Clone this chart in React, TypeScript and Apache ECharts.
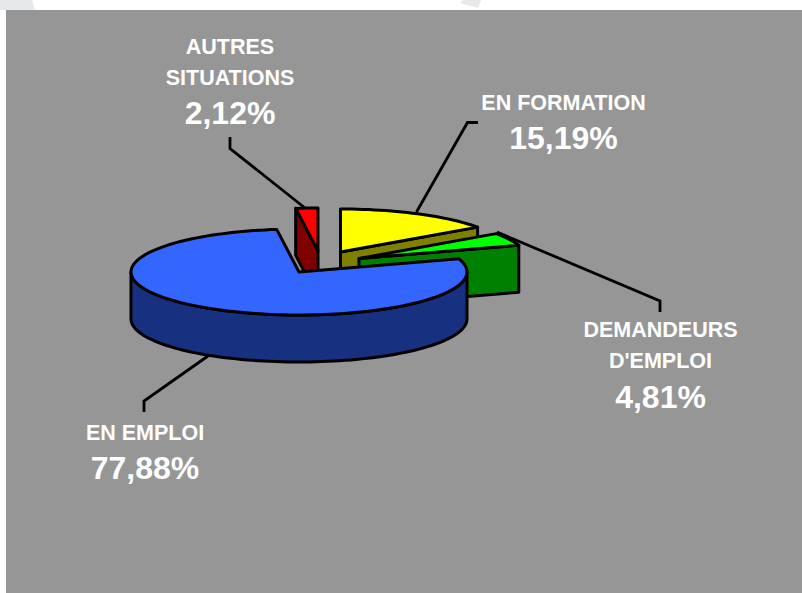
import React, { useEffect, useRef } from "react";
import * as echarts from "echarts";

const categories = ["EN FORMATION", "DEMANDEURS\nD'EMPLOI", "EN EMPLOI", "AUTRES\nSITUATIONS"];
const shares = [15.19, 4.81, 77.88, 2.12];
const valueLabels = ["15,19%", "4,81%", "77,88%", "2,12%"];
const topColours = ["#ffff00", "#00ff00", "#3366ff", "#ff0000"];
const sideColours = ["#808000", "#008000", "#17307f", "#800000"];
const drawOrder = [3, 0, 1, 2];

// pie geometry
const RX = 168, RY = 43, DEPTH = 47;
const tips = [[340.5, 252], [359, 258.5], [299, 272], [318, 251]];
const leaders = [
  [[478, 122.5], [467.5, 122.5], [416.5, 212]],
  [[660, 312], [660, 301], [497, 232]],
  [[144, 412], [144, 401], [208, 356]],
  [[230, 137], [230, 148.5], [305, 208]],
];
const labelAnchors = [[563.5, 102.5, 138], [660.5, 330, 397], [145, 432.5, 468], [230, 46.5, 113]];

const rad = (d: number) => (d * Math.PI) / 180;

function App() {
  const ref = useRef<HTMLDivElement>(null);
  useEffect(() => {
    document.body.style.margin = "0";
    const chart = echarts.init(ref.current!, null, { renderer: "svg" });

    const total = shares.reduce((a, b) => a + b, 0);
    const startAngles: number[] = [];
    let acc = 0;
    for (const s of shares) { startAngles.push((acc / total) * 360); acc += s; }

    const renderItem = (_params: any, api: any) => {
      const i = api.value(0);
      const span = (api.value(1) / total) * 360;
      const a0 = startAngles[i];
      const a1 = a0 + span;
      const [cx, cy] = tips[i];
      const pt = (a: number, dy = 0) => [cx + RX * Math.sin(rad(a)), cy - RY * Math.cos(rad(a)) + dy];
      const arc = (from: number, to: number, dy = 0) => {
        const n = Math.max(2, Math.ceil(Math.abs(to - from) / 2));
        const out: number[][] = [];
        for (let k = 0; k <= n; k++) out.push(pt(from + ((to - from) * k) / n, dy));
        return out;
      };
      const line = { stroke: "#000", lineWidth: 3, lineJoin: "round" };
      const children: any[] = [];
      // cut faces that turn towards the viewer
      if (a0 > 180) {
        children.push({ type: "polygon", shape: { points: [[cx, cy], pt(a0), pt(a0, DEPTH), [cx, cy + DEPTH]] }, style: { fill: sideColours[i], ...line } });
      }
      if (a1 < 180) {
        children.push({ type: "polygon", shape: { points: [[cx, cy], pt(a1), pt(a1, DEPTH), [cx, cy + DEPTH]] }, style: { fill: sideColours[i], ...line } });
      }
      // outer wall between the right and left extremes of the ellipse
      const wA = Math.max(a0, 90), wB = Math.min(a1, 270);
      if (wB > wA) {
        children.push({ type: "polygon", shape: { points: [...arc(wA, wB), ...arc(wB, wA, DEPTH)] }, style: { fill: sideColours[i], ...line } });
      }
      children.push({ type: "polygon", shape: { points: [[cx, cy], ...arc(a0, a1)] }, style: { fill: topColours[i], ...line } });
      return { type: "group", children };
    };

    const texts: any[] = [];
    categories.forEach((name, i) => {
      const [x, y0, y1] = labelAnchors[i];
      const lines = name.split("\n");
      lines.forEach((t, k) => {
        texts.push({
          type: "text", x, y: y0 + k * 31,
          style: { text: t, fill: "#fff", font: "bold 21.5px 'Liberation Sans', Arial, sans-serif", textAlign: "center", textVerticalAlign: "middle" },
        });
      });
      texts.push({
        type: "text", x, y: y1,
        style: { text: valueLabels[i], fill: "#fff", font: "bold 32px 'Liberation Sans', Arial, sans-serif", textAlign: "center", textVerticalAlign: "middle" },
      });
    });

    chart.setOption({
      animation: false,
      backgroundColor: "#ffffff",
      graphic: [
        { type: "polygon", z: -2, silent: true, shape: { points: [[0, 0], [32, 0], [35, 10], [0, 10]] }, style: { fill: "#e6e8ea" } },
        { type: "polygon", z: -2, silent: true, shape: { points: [[463, 0], [481, 0], [478, 8], [460, 3]] }, style: { fill: "#e6e8ea" } },
        { type: "rect", z: -1, silent: true, shape: { x: 6, y: 10, width: 796, height: 583 }, style: { fill: "#969696" } },
        ...leaders.map((points) => ({ type: "polyline", z: 1, silent: true, shape: { points }, style: { stroke: "#000", lineWidth: 2.8, fill: "none" } })),
        ...texts.map((t) => ({ ...t, z: 5, silent: true })),
      ],
      series: [
        {
          type: "custom",
          coordinateSystem: "none",
          silent: true,
          z: 3,
          renderItem,
          encode: { value: [1] },
          data: drawOrder.map((i) => [i, shares[i]]),
        },
      ],
    });
    return () => chart.dispose();
  }, []);
  return <div ref={ref} style={{ width: 802, height: 593 }} />;
}

export default App;
